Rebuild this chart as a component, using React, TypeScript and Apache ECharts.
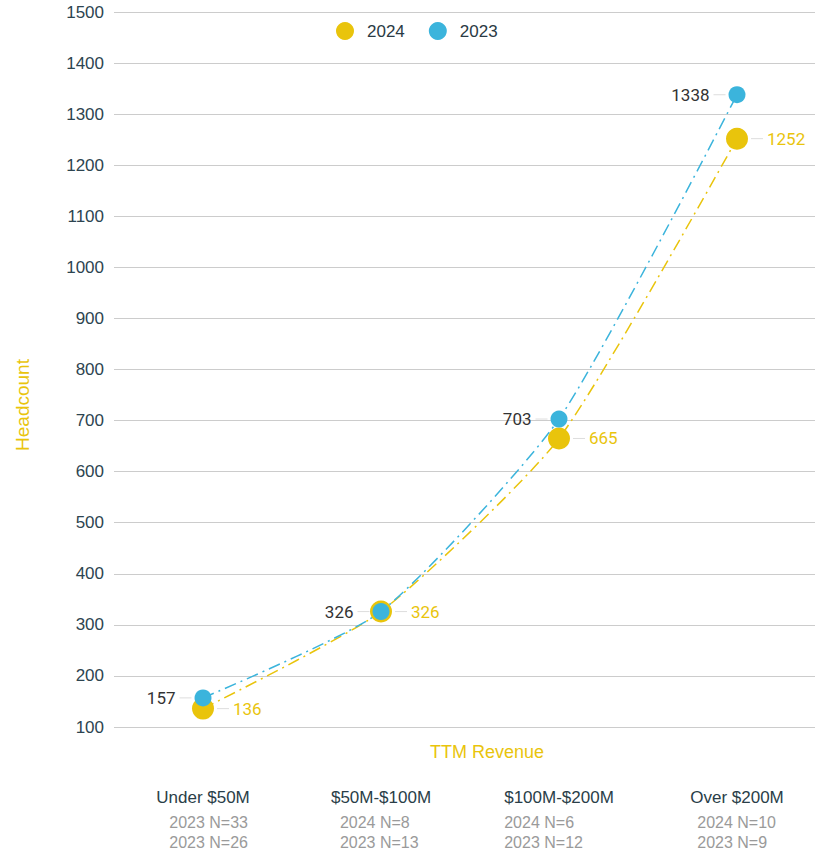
import React, { useEffect, useRef } from "react";
import * as echarts from "echarts";

const categories = ["Under $50M", "$50M-$100M", "$100M-$200M", "Over $200M"];
const sampleLine1 = ["2023 N=33", "2024 N=8", "2024 N=6", "2024 N=10"];
const sampleLine2 = ["2023 N=26", "2023 N=13", "2023 N=12", "2023 N=9"];
const values2024 = [136, 326, 665, 1252];
const values2023 = [157, 326, 703, 1338];

const YELLOW = "#E9C40C";
const BLUE = "#3BB4DC";
const FONT = "Liberation Sans, Arial, sans-serif";
const LABEL_FONT = "Roboto, sans-serif";
const subIndent = [13, 9, 0, 7];

export default function App() {
  const ref = useRef<HTMLDivElement>(null);
  useEffect(() => {
    if (!ref.current) return;
    const chart = echarts.init(ref.current, null, { renderer: "svg" });
    const lineStyleBase = { width: 1.5, type: [12, 5, 2, 5] as any };
    const guide = { width: 12, height: 1, backgroundColor: "#dddddd" };
    const rich: Record<string, any> = {
      a: { fontSize: 17, color: "#2a3e48", lineHeight: 30, fontFamily: FONT, align: "left" },
    };
    subIndent.forEach((ind, i) => {
      rich["b" + i] = {
        fontSize: 16,
        color: "#9a9a9a",
        lineHeight: 20,
        fontFamily: FONT,
        align: "left",
        padding: [0, 0, 0, ind],
      };
    });
    chart.setOption({
      animation: false,
      textStyle: { fontFamily: FONT },
      legend: {
        top: 17,
        left: 331,
        itemWidth: 18,
        itemHeight: 18,
        itemGap: 24,
        icon: "circle",
        textStyle: { fontSize: 17, color: "#2a3a44", fontFamily: FONT, padding: [0, 0, 0, 8] },
        data: ["2024", "2023"],
      },
      grid: {
        left: 114,
        width: 712,
        top: 12,
        bottom: 125,
        containLabel: false,
        outerBoundsMode: "none",
      },
      xAxis: {
        type: "category",
        data: categories,
        axisLine: { show: false },
        axisTick: { show: false },
        axisLabel: {
          margin: 55,
          interval: 0,
          formatter: (v: string, i: number) =>
            `{a|${v}}\n{b${i}|${sampleLine1[i]}}\n{b${i}|${sampleLine2[i]}}`,
          rich,
        },
      },
      yAxis: {
        type: "value",
        min: 100,
        max: 1500,
        interval: 100,
        axisLine: { show: false },
        axisTick: { show: false },
        splitLine: { lineStyle: { color: "#cccccc", width: 1 } },
        axisLabel: {
          fontSize: 17,
          color: "#2d4450",
          margin: 10,
          fontFamily: FONT,
          formatter: (v: number) => String(v),
        },
      },
      graphic: [
        {
          type: "text",
          x: 487,
          y: 752,
          style: {
            text: "TTM Revenue",
            fill: YELLOW,
            fontSize: 18,
            fontFamily: FONT,
            textAlign: "center",
            textVerticalAlign: "middle",
          },
        },
        {
          type: "text",
          x: 22,
          y: 405,
          rotation: Math.PI / 2,
          style: {
            text: "Headcount",
            fill: YELLOW,
            fontSize: 19,
            fontFamily: FONT,
            textAlign: "center",
            textVerticalAlign: "middle",
          },
        },
      ],
      series: [
        {
          name: "2024",
          type: "line",
          data: values2024,
          smooth: 0.2,
          symbol: "circle",
          symbolSize: 22,
          itemStyle: { color: YELLOW },
          lineStyle: { ...lineStyleBase, color: YELLOW },
          label: {
            show: true,
            position: "right",
            distance: 3,
            formatter: (p: any) => `{l|}{v|${p.value}}`,
            rich: {
              l: guide,
              v: { color: YELLOW, fontSize: 17, fontFamily: LABEL_FONT, padding: [0, 0, 0, 4] },
            },
          },
          z: 2,
        },
        {
          name: "2023",
          type: "line",
          data: values2023,
          smooth: 0.2,
          symbol: "circle",
          symbolSize: 17,
          itemStyle: { color: BLUE },
          lineStyle: { ...lineStyleBase, color: BLUE },
          label: {
            show: true,
            position: "left",
            distance: 3,
            formatter: (p: any) => `{v|${p.value}}{l|}`,
            rich: {
              l: guide,
              v: { color: "#333333", fontSize: 17, fontFamily: LABEL_FONT, padding: [0, 4, 0, 0] },
            },
          },
          z: 3,
        },
      ],
    });
    return () => chart.dispose();
  }, []);
  return (
    <div
      ref={ref}
      style={{ position: "absolute", left: 0, top: 0, width: 815, height: 852 }}
    />
  );
}
